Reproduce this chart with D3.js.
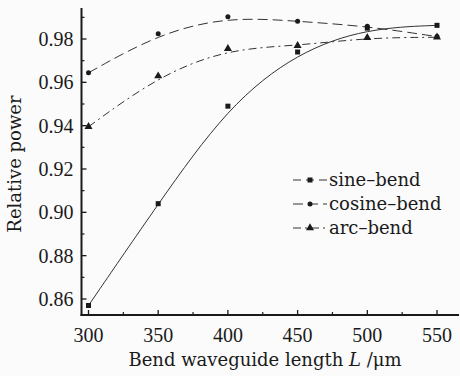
<!DOCTYPE html>
<html><head><meta charset="utf-8">
<script src="https://cdn.jsdelivr.net/npm/d3@7"></script>
<style>body{margin:0;background:#fbfbfb}svg{display:block}</style>
</head><body><svg id="c" width="460" height="376"></svg>
<script>
const lengths = [300, 350, 400, 450, 500, 550];
const sineBend = [0.857, 0.904, 0.949, 0.974, 0.985, 0.9863];
const cosineBend = [0.9644, 0.9824, 0.9903, 0.9882, 0.9859, 0.9811];
const arcBend = [0.9395, 0.9629, 0.9755, 0.9769, 0.9806, 0.9808];
const seriesNames = ["sine\u2013bend", "cosine\u2013bend", "arc\u2013bend"];
const xTicks = [300, 350, 400, 450, 500, 550];
const xMinor = [325, 375, 425, 475, 525];
const yTicks = [0.86, 0.88, 0.90, 0.92, 0.94, 0.96, 0.98];
const yMinor = [0.87, 0.89, 0.91, 0.93, 0.95, 0.97, 0.99];

const svg = d3.select("#c");
const x = d3.scaleLinear().domain([300, 550]).range([88.5, 437]);
const y = d3.scaleLinear().domain([0.86, 0.98]).range([299, 39]);
const x0 = 81.5, y0 = 315;
const ink = "#1a1a1a";

const series = [
  {name: seriesNames[0], vals: sineBend, dash: null, marker: "square"},
  {name: seriesNames[1], vals: cosineBend, dash: "10,5", marker: "circle"},
  {name: seriesNames[2], vals: arcBend, dash: "8,4,2,4", marker: "triangle"}
];

const line = d3.line().x(d => x(d[0])).y(d => y(d[1])).curve(d3.curveBasis);
const g = svg.append("g");
series.forEach(s => {
  const pts = lengths.map((l, i) => [l, s.vals[i]]);
  g.append("path").attr("d", line(pts)).attr("fill", "none")
    .attr("stroke", "#333").attr("stroke-width", 1)
    .attr("stroke-dasharray", s.dash);
});
function drawMarker(sel, type, cx, cy) {
  if (type === "square") sel.append("rect").attr("x", cx - 2.5).attr("y", cy - 2.5).attr("width", 5).attr("height", 5).attr("fill", ink);
  else if (type === "circle") sel.append("circle").attr("cx", cx).attr("cy", cy).attr("r", 2.5).attr("fill", ink);
  else sel.append("path").attr("d", d3.symbol().type(d3.symbolTriangle).size(28)()).attr("transform", `translate(${cx},${cy})`).attr("fill", ink);
}
series.forEach(s => {
  lengths.forEach((l, i) => drawMarker(g, s.marker, x(l), y(s.vals[i])));
});

// axes
const ax = svg.append("g");
ax.append("line").attr("x1", x0).attr("x2", x0).attr("y1", 8).attr("y2", y0 + 1).attr("stroke", ink).attr("stroke-width", 2);
ax.append("line").attr("x1", x0 - 1).attr("x2", 459).attr("y1", y0).attr("y2", y0).attr("stroke", ink).attr("stroke-width", 2);
xTicks.forEach(t => ax.append("line").attr("x1", x(t)).attr("x2", x(t)).attr("y1", y0).attr("y2", y0 - 5).attr("stroke", ink).attr("stroke-width", 1.3));
xMinor.forEach(t => ax.append("line").attr("x1", x(t)).attr("x2", x(t)).attr("y1", y0).attr("y2", y0 - 3).attr("stroke", ink).attr("stroke-width", 1.2));
yTicks.forEach(t => ax.append("line").attr("x1", x0).attr("x2", x0 + 5).attr("y1", y(t)).attr("y2", y(t)).attr("stroke", ink).attr("stroke-width", 1.3));
yMinor.forEach(t => ax.append("line").attr("x1", x0).attr("x2", x0 + 3).attr("y1", y(t)).attr("y2", y(t)).attr("stroke", ink).attr("stroke-width", 1.2));

const tickFont = "'Liberation Serif', serif";
const textFont = "'DejaVu Serif', serif";
ax.selectAll(".xl").data(xTicks).enter().append("text")
  .attr("x", d => x(d)).attr("y", 342).attr("text-anchor", "middle")
  .attr("font-family", tickFont).attr("font-size", 20).attr("fill", ink).text(d => d);
ax.selectAll(".yl").data(yTicks).enter().append("text")
  .attr("x", 73.5).attr("y", d => y(d)).attr("dy", "0.35em").attr("text-anchor", "end")
  .attr("font-family", tickFont).attr("font-size", 20).attr("fill", ink).text(d => d3.format(".2f")(d));

const xt = svg.append("text").attr("x", 265).attr("y", 366).attr("text-anchor", "middle")
  .attr("font-family", textFont).attr("font-size", 18).attr("fill", ink);
xt.append("tspan").text("Bend waveguide length ");
xt.append("tspan").attr("font-style", "italic").text("L");
xt.append("tspan").text(" /\u03bcm");
svg.append("text").attr("transform", "translate(21,164) rotate(-90)").attr("text-anchor", "middle")
  .attr("font-family", textFont).attr("font-size", 18).attr("fill", ink).text("Relative power");

// legend
const lg = svg.append("g");
const rows = [180, 204, 228];
series.forEach((s, i) => {
  const cy = rows[i];
  lg.append("line").attr("x1", 293).attr("x2", 327).attr("y1", cy).attr("y2", cy)
    .attr("stroke", "#333").attr("stroke-width", 1).attr("stroke-dasharray", s.dash ? s.dash : "8,5");
  drawMarker(lg, s.marker, 310, cy);
  lg.append("text").attr("x", 329).attr("y", cy).attr("dy", "0.32em")
    .attr("font-family", textFont).attr("font-size", 18).attr("fill", ink).text(s.name);
});
</script></body></html>
